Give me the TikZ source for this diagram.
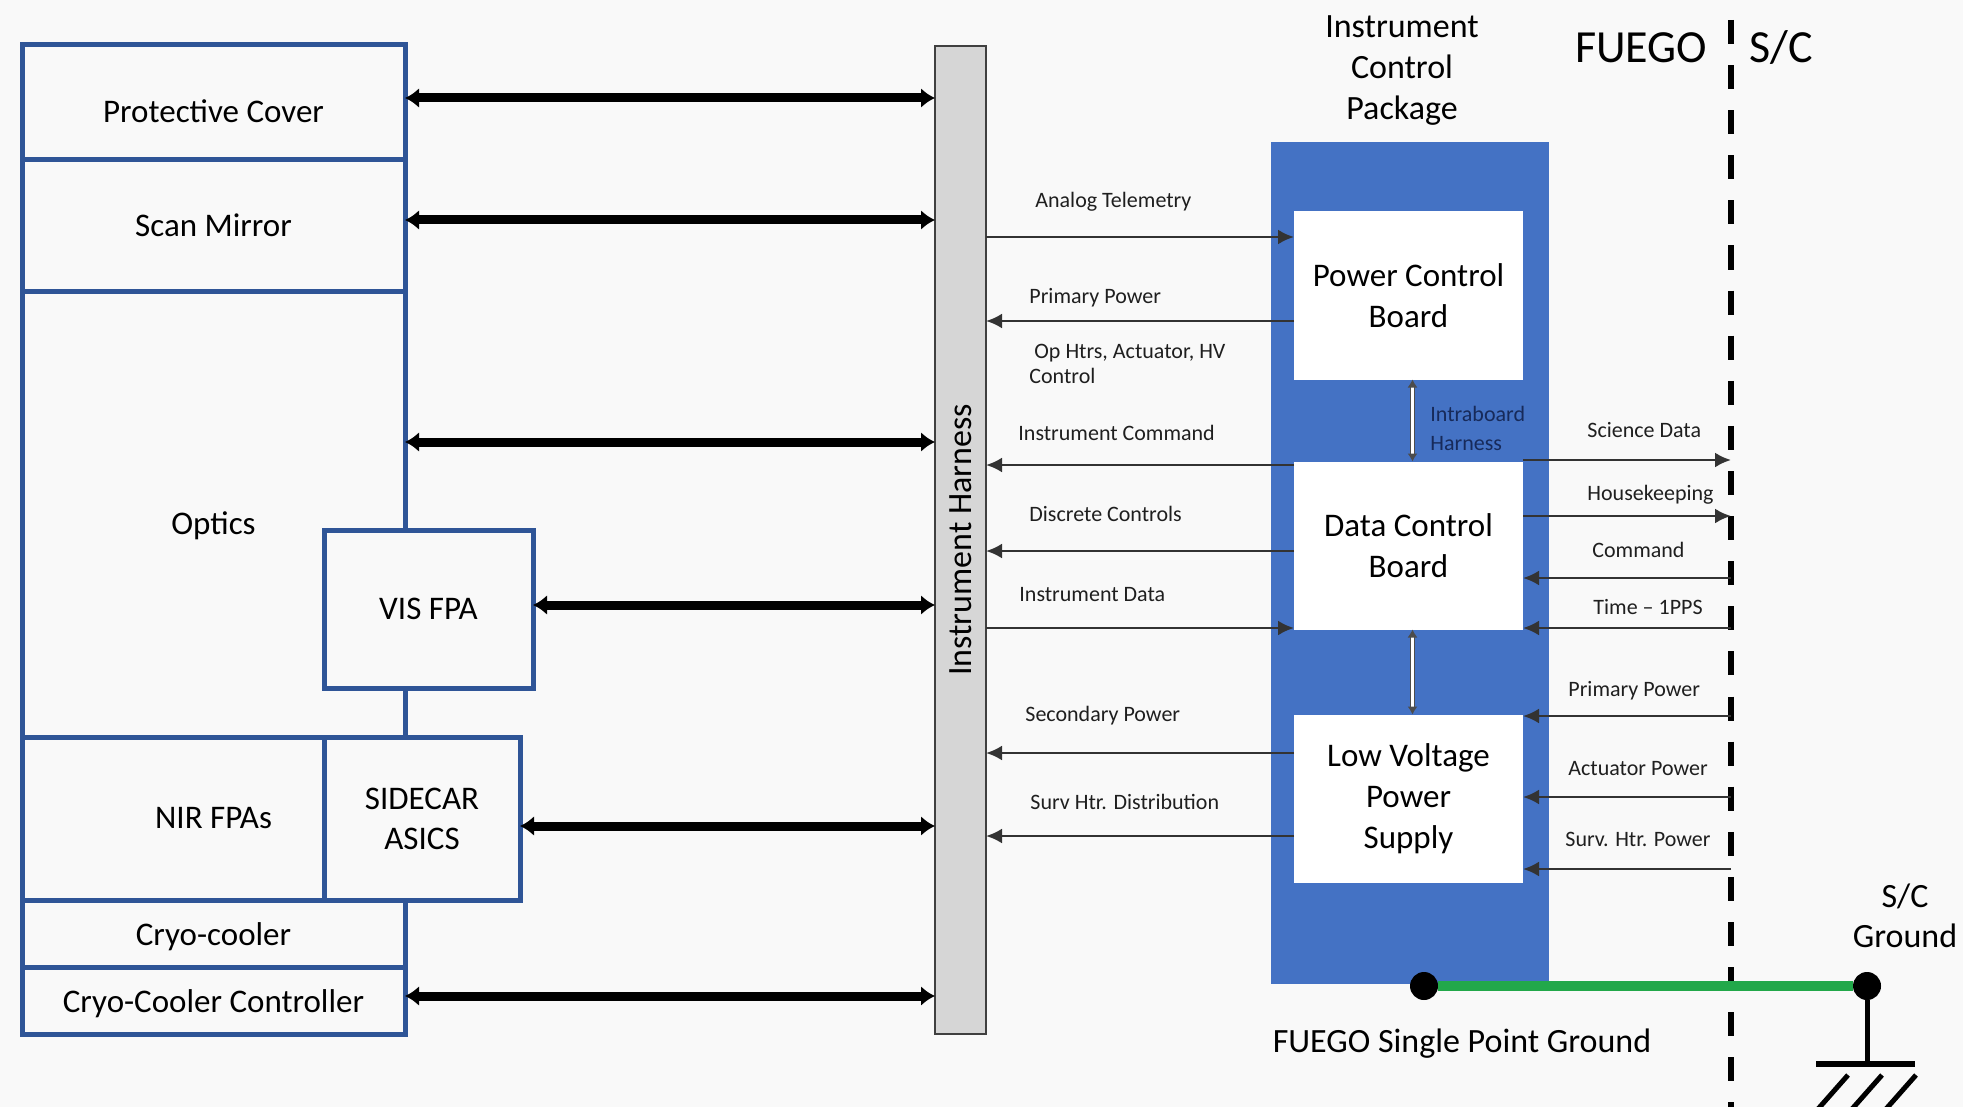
\documentclass[tikz,border=0pt]{standalone}
\usepackage{fontspec}
\setmainfont{Carlito}
\usetikzlibrary{arrows.meta}
\usetikzlibrary{positioning}
\definecolor{bgcol}{HTML}{F9F9F9}
\definecolor{boxblue}{HTML}{2F5597}
\definecolor{pkgblue}{HTML}{4472C4}
\definecolor{navy}{HTML}{172A5A}
\definecolor{gndgreen}{HTML}{22A84A}
\tikzset{
  unit/.style={draw=boxblue, line width=2.5pt, fill=bgcol, outer sep=0pt, inner sep=0pt,
    font=\fontsize{16.5}{20}\selectfont, align=center},
  board/.style={fill=white, outer sep=0pt, inner sep=0pt, minimum width=114.5pt,
    minimum height=84pt, font=\fontsize{16.5}{20.5}\selectfont, align=center},
  bus/.style={line width=4.5pt, {Latex[length=7pt,width=10pt]}-{Latex[length=7pt,width=10pt]}},
  sig/.style={draw=black!80, line width=1.3pt, -{Latex[length=8pt,width=7.5pt]}},
  siglabel/.style={font=\fontsize{11}{12.5}\selectfont, inner sep=0pt, anchor=base west, text=black!88},
  intra/.style={draw=black!70, line width=0.6pt, double=white, double distance=1.4pt,
    {Latex[length=4pt,width=5pt]}-{Latex[length=4pt,width=5pt]}},
  boundary/.style={line width=3pt, dash pattern=on 12pt off 10.55pt},
  gnddot/.style={circle, fill=black, minimum size=14pt, inner sep=0pt},
  gndline/.style={draw=gndgreen, line width=5pt},
  gndwire/.style={line width=2.5pt}
}
\begin{document}
\begin{tikzpicture}[x=0.5pt, y=-0.5pt]
  \useasboundingbox (0,0) rectangle (1963,1107);
  \fill[bgcol] (0,0) rectangle (1963,1107);

  %% instrument stack
  \node[unit, minimum width=191.5pt, minimum height=57.5pt, text height=20pt] (cover) at (213.5,102.5) {Protective Cover};
  \node[unit, minimum width=191.5pt, minimum height=65.5pt, below=0pt of cover] (mirror) {Scan Mirror};
  \node[unit, minimum width=191.5pt, minimum height=223pt, below=0pt of mirror, text height=23pt] (optics) {Optics};
  \node[unit, minimum width=151pt, minimum height=81.5pt, below right=0pt of optics.south west] (nir) {};
  \node[unit, minimum width=98pt, minimum height=81.5pt, right=0pt of nir] (sidecar) {SIDECAR\\ASICS};
  \node[font=\fontsize{16.5}{20}\selectfont] (nirlabel) at (nir.center -| optics.center) {NIR FPAs};
  \node[unit, minimum width=191.5pt, minimum height=33.5pt, below right=0pt of nir.south west, text height=15pt] (cooler) {Cryo-cooler};
  \node[unit, minimum width=191.5pt, minimum height=33.5pt, below=0pt of cooler, text height=15pt] (ccc) {Cryo-Cooler Controller};
  \node[unit, minimum width=104.5pt, minimum height=79pt] (vis) at (428.5,609) {VIS FPA};

  %% harness
  \node[draw=black!75, line width=1.2pt, fill=black!16, minimum width=25.5pt,
    minimum height=494pt, outer sep=0pt] (harness) at (960.5,540) {};
  \node[rotate=90, font=\fontsize{17}{20}\selectfont] (harnesslabel) at (harness.center) {Instrument Harness};
  \foreach \src/\ypos in {cover/98, mirror/220, optics/442, vis/605, sidecar/826, ccc/996}
    \draw[bus] (\src.east |- 0,\ypos) -- (harness.west |- 0,\ypos);

  %% control package
  \node[fill=pkgblue, minimum width=139pt, minimum height=421pt, outer sep=0pt] (icp) at (1410,563) {};
  \node[align=center, font=\fontsize{17}{20.5}\selectfont] (icplabel) at (1402,71) {Instrument\\Control\\Package};
  \node[board] (pcb) at (1408.5,295.5) {Power Control\\Board};
  \node[board, below=41pt of pcb] (dcb) {Data Control\\Board};
  \node[board, below=42.5pt of dcb] (lvps) {Low Voltage\\Power\\Supply};
  \draw[intra] ([xshift=2pt]pcb.south) -- ([xshift=2pt]dcb.north);
  \draw[intra] ([xshift=2pt]dcb.south) -- ([xshift=2pt]lvps.north);
  \node[siglabel, anchor=north west, text=navy, align=left, font=\fontsize{11}{14.5}\selectfont]
    (intralabel) at (1430,406) {Intraboard\\Harness};

  %% boundary
  \coordinate (bndtop) at (1731,20);
  \coordinate (bndbot) at (1731,1107);
  \draw[boundary] (bndtop) -- (bndbot);
  \node[font=\fontsize{23}{26}\selectfont] (fuego) at (1641,48) {FUEGO};
  \node[font=\fontsize{23}{26}\selectfont] (sc) at (1781,48) {S/C};

  %% harness side signals
  \draw[sig] (harness.east |- 0,237) -- (pcb.west |- 0,237);
  \draw[sig] (pcb.west |- 0,321) -- (harness.east |- 0,321);
  \draw[sig] (dcb.west |- 0,465) -- (harness.east |- 0,465);
  \draw[sig] (dcb.west |- 0,551) -- (harness.east |- 0,551);
  \draw[sig] (harness.east |- 0,628) -- (dcb.west |- 0,628);
  \draw[sig] (lvps.west |- 0,753) -- (harness.east |- 0,753);
  \draw[sig] (lvps.west |- 0,836) -- (harness.east |- 0,836);
  \node[siglabel] (lbat) at (1035,207) {Analog Telemetry};
  \node[siglabel] (lbpp) at (1029,303) {Primary Power};
  \node[siglabel, anchor=north west, align=left, font=\fontsize{11}{12.5}\selectfont]
    (lbop) at (1029,344) {\hspace*{2.5pt}Op Htrs, Actuator, HV\\Control};
  \node[siglabel] (lbic) at (1018,440) {Instrument Command};
  \node[siglabel] (lbdc) at (1029,521) {Discrete Controls};
  \node[siglabel] (lbid) at (1019,601) {Instrument Data};
  \node[siglabel] (lbsp) at (1025,721) {Secondary Power};
  \node[siglabel] (lbsd) at (1030,809) {Surv Htr. Distribution};

  %% spacecraft side signals
  \draw[sig] (dcb.east |- 0,460) -- (bndtop |- 0,460);
  \draw[sig] (dcb.east |- 0,516) -- (bndtop |- 0,516);
  \draw[sig] (bndtop |- 0,578) -- (dcb.east |- 0,578);
  \draw[sig] (bndtop |- 0,628) -- (dcb.east |- 0,628);
  \draw[sig] (bndtop |- 0,716) -- (lvps.east |- 0,716);
  \draw[sig] (bndtop |- 0,797) -- (lvps.east |- 0,797);
  \draw[sig] (bndtop |- 0,869) -- (lvps.east |- 0,869);
  \node[siglabel] (lbsci) at (1587,437) {Science Data};
  \node[siglabel] (lbhk) at (1587,500) {Housekeeping};
  \node[siglabel] (lbcmd) at (1592,557) {Command};
  \node[siglabel] (lbpps) at (1593,614) {Time -- 1PPS};
  \node[siglabel] (lbprp) at (1568,696) {Primary Power};
  \node[siglabel] (lbact) at (1568,775) {Actuator Power};
  \node[siglabel] (lbshp) at (1565,846) {Surv. Htr. Power};

  %% grounding
  \node[gnddot] (spg) at (1424,986) {};
  \node[gnddot] (scg) at (1867,986) {};
  \draw[gndline] (spg) -- (scg);
  \coordinate (gbar) at (1867,1064);
  \draw[gndwire] (scg) -- (gbar);
  \draw[line width=3pt] ([xshift=-25.5pt]gbar) -- ([xshift=24pt]gbar);
  \foreach \dx in {0,34,68}
    \draw[gndwire] (1848+\dx,1075) -- (1818+\dx,1109);
  \node[align=center, font=\fontsize{17}{20}\selectfont] (scglabel) at (1905,916) {S/C\\Ground};
  \node[font=\fontsize{17}{20}\selectfont] (spglabel) at (1462,1044) {FUEGO Single Point Ground};
\end{tikzpicture}
\end{document}
